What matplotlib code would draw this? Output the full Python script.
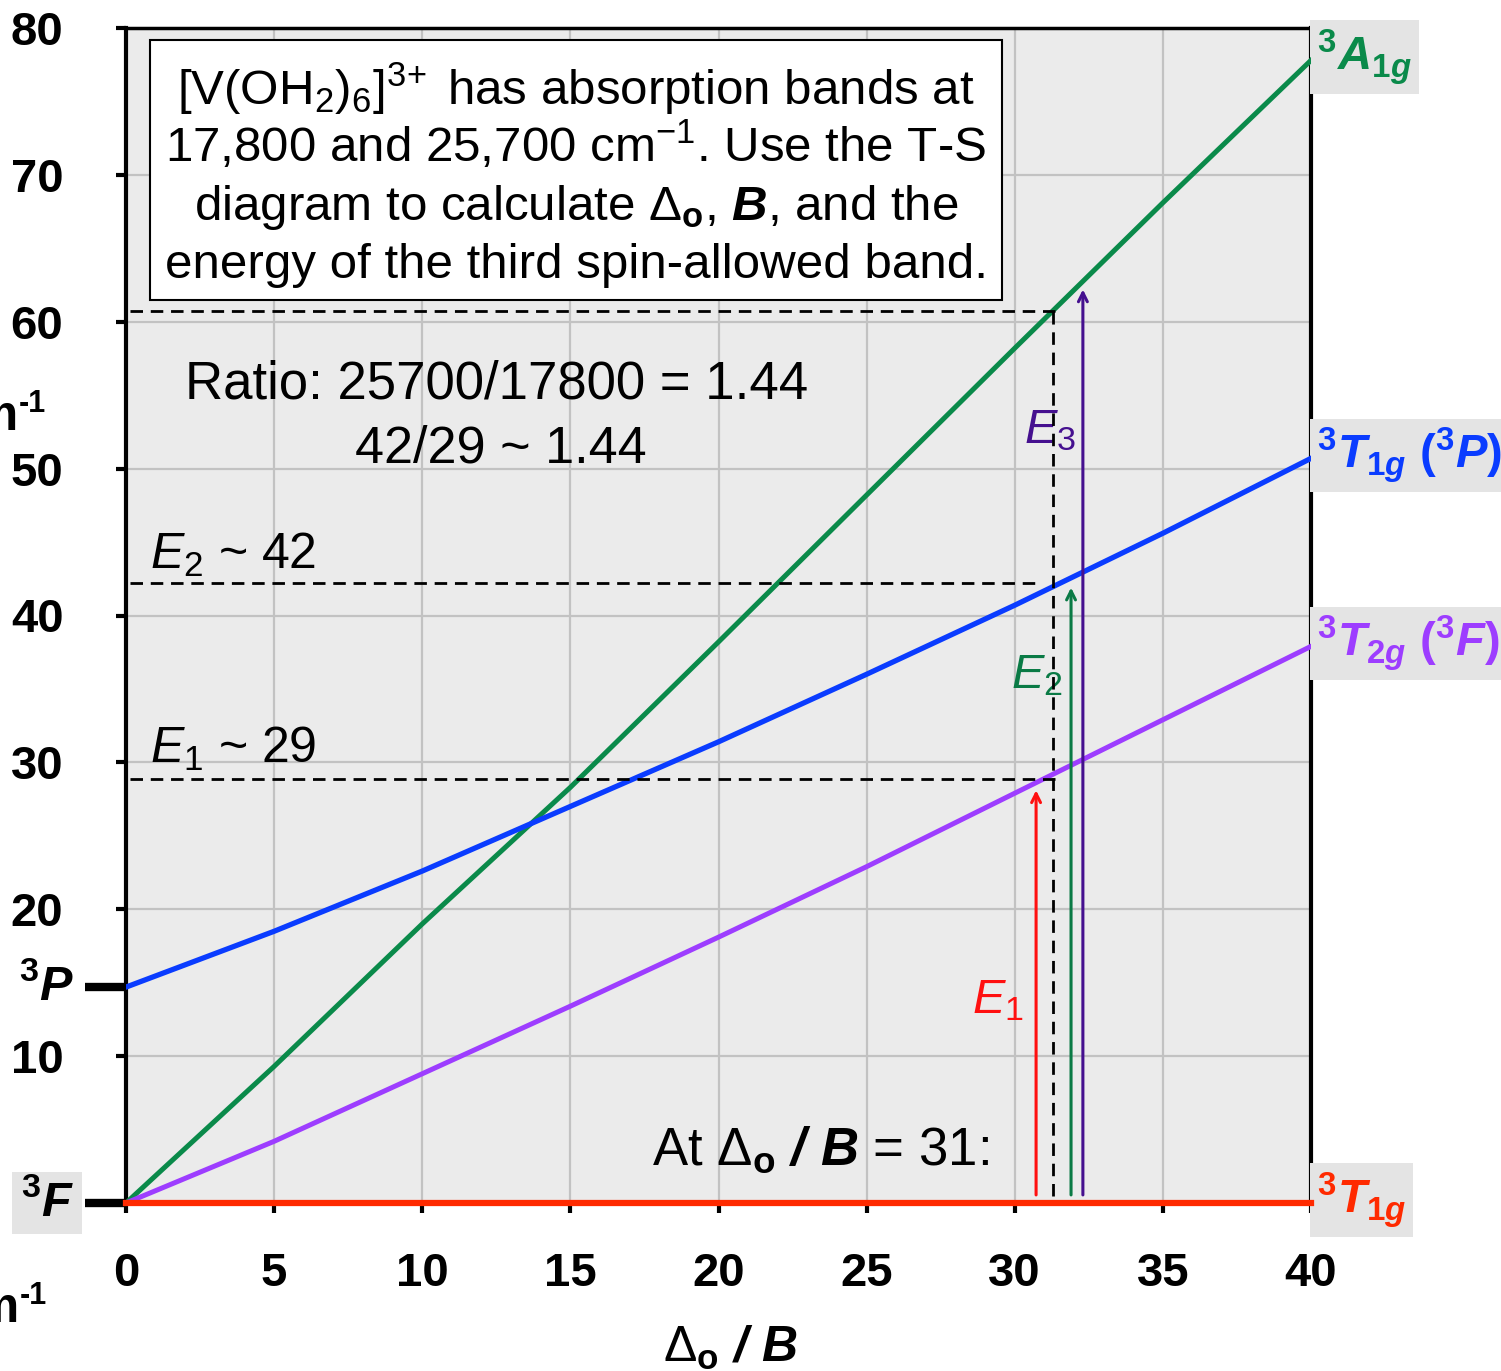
import matplotlib
matplotlib.use("Agg")
import matplotlib.pyplot as plt
from matplotlib.patches import Rectangle

plt.rcParams['font.family'] = ['Liberation Sans', 'DejaVu Sans']
plt.rcParams['mathtext.fontset'] = 'custom'
plt.rcParams['mathtext.rm'] = 'Liberation Sans'
plt.rcParams['mathtext.it'] = 'Liberation Sans:italic'
plt.rcParams['mathtext.bf'] = 'Liberation Sans:bold'
plt.rcParams['mathtext.bfit'] = 'Liberation Sans:bold:italic'
plt.rcParams['mathtext.sf'] = 'Liberation Sans'

# ---------------- data ----------------
dq_b = [0, 5, 10, 15, 20, 25, 30, 35, 40]
t1g_f = [0, 0, 0, 0, 0, 0, 0, 0, 0]
t2g_f = [0, 4.2, 8.8, 13.4, 18.1, 22.9, 27.9, 32.9, 37.9]
t1g_p = [14.7, 18.5, 22.6, 27.0, 31.4, 36.0, 40.7, 45.6, 50.7]
a1g = [0, 9.3, 19.0, 28.3, 38.2, 48.2, 58.2, 68.1, 77.8]

x_ticks = [0, 5, 10, 15, 20, 25, 30, 35, 40]
x_tick_labels = ['0', '5', '10', '15', '20', '25', '30', '35', '40']
y_ticks = [0, 10, 20, 30, 40, 50, 60, 70, 80]
y_tick_labels = ['', '10', '20', '30', '40', '50', '60', '70', '80']

term_3p = 14.7
ratio_x = 31.3           # Delta_o / B read-off
e1, e2, e3 = 29, 42, 61  # band energies (E/B)
arrow_x = [30.72, 31.9, 32.3]
arrow_tip = [28.1, 41.9, 62.2]
dash_ends = [31.35, 30.7, 31.35]   # for 61, 42, 29

# ---------------- styles ----------------
c_green = '#0a8a4a'
c_blue = '#0a3cff'
c_purple = '#9d3dff'
c_red = '#ff2a00'
c_e1 = '#ff1010'
c_e2 = '#0a7a45'
c_e3 = '#45108f'
gray_box = '#e4e4e4'

W, H = 1501, 1371
fig = plt.figure(figsize=(W / 100, H / 100), dpi=100)
ax = fig.add_axes([126 / W, 1 - 1203 / H, (1311 - 126) / W, (1203 - 28) / H])
ax.set_facecolor('#ebebeb')
ax.set_xlim(0, 40)
ax.set_ylim(0, 80)
ax.set_xticks(x_ticks)
ax.set_xticklabels(x_tick_labels)
ax.set_yticks(y_ticks)
ax.set_yticklabels(y_tick_labels)
ax.grid(True, color='#c2c2c2', lw=1.6)
ax.set_axisbelow(True)
for lab in ax.get_xticklabels() + ax.get_yticklabels():
    lab.set_fontsize(34)
    lab.set_fontweight('bold')
ax.tick_params(axis='x', direction='out', length=7, width=3, pad=28, color='black')
ax.tick_params(axis='y', direction='out', length=7, width=3, pad=38, color='black')
ax.spines['bottom'].set_visible(False)
ax.spines['left'].set_linewidth(3)
ax.spines['right'].set_linewidth(3)
ax.spines['top'].set_linewidth(2.5)

# curves
ax.plot(dq_b, a1g, color=c_green, lw=3.6, zorder=4)
ax.plot(dq_b, t1g_p, color=c_blue, lw=3.8, zorder=4)
ax.plot(dq_b, t2g_f, color=c_purple, lw=3.6, zorder=4)
ax.plot(dq_b, t1g_f, color=c_red, lw=4.5, zorder=6, clip_on=False)

# dashed read-off lines
dash_kw = dict(color='black', lw=2.0, ls=(0, (4.5, 2.8)), zorder=5)
ax.plot([0.15, dash_ends[0]], [60.7, 60.7], **dash_kw)
ax.plot([0.15, dash_ends[1]], [42.2, 42.2], **dash_kw)
ax.plot([0.15, dash_ends[2]], [28.9, 28.9], **dash_kw)
ax.plot([ratio_x, ratio_x], [0.5, 60.7], **dash_kw)

# arrows
for xa, tip, col in zip(arrow_x, arrow_tip, [c_e1, c_e2, c_e3]):
    ax.annotate('', xy=(xa, tip), xytext=(xa, 0.55),
                arrowprops=dict(arrowstyle='->', color=col, lw=2.2,
                                mutation_scale=16, shrinkA=0, shrinkB=0),
                zorder=6)

# E labels
ax.text(29.43, 13.8, r'$\mathit{E}_{1}$', color=c_e1, fontsize=35,
        ha='center', va='center')
ax.text(30.75, 35.9, r'$\mathit{E}_{2}$', color=c_e2, fontsize=35,
        ha='center', va='center')
ax.text(31.2, 52.6, r'$\mathit{E}_{3}$', color=c_e3, fontsize=35,
        ha='center', va='center')

# read-off texts
ax.text(0.81, 43.2, r'$\mathit{E}_{2}$ ~ 42', fontsize=36, ha='left', va='baseline')
ax.text(0.81, 29.95, r'$\mathit{E}_{1}$ ~ 29', fontsize=36, ha='left', va='baseline')
ax.text(1.99, 54.8, 'Ratio: 25700/17800 = 1.44', fontsize=38, ha='left', va='baseline')
ax.text(7.73, 50.4, '42/29 ~ 1.44', fontsize=37.5, ha='left', va='baseline')
ax.text(17.76, 2.6, r'At $\Delta_{\mathbf{o}}$ $\mathbfit{/}$ $\mathbfit{B}$ = 31:',
        fontsize=38, ha='left', va='baseline')

# question box
ax.add_patch(Rectangle((0.81, 61.5), 28.76, 17.7, facecolor='white',
                       edgecolor='black', lw=1.5, zorder=7))
box_lines = [r'[V(OH$_2$)$_6$]$^{3\!+}$ has absorption bands at',
             r'17,800 and 25,700 cm$^{-1}$. Use the T-S',
             r'diagram to calculate $\Delta_{\mathbf{o}}$, $\mathbfit{B}$, and the',
             'energy of the third spin-allowed band.']
for i, line in enumerate(box_lines):
    ax.text(15.19, 74.8 - 3.95 * i, line, fontsize=35.5, ha='center', va='baseline',
            zorder=8)

# left term symbols
ax.plot([-1.39, 0], [term_3p, term_3p], color='black', lw=6, clip_on=False,
        solid_capstyle='butt')
ax.plot([-1.39, 0], [0, 0], color='black', lw=6, clip_on=False,
        solid_capstyle='butt')
ax.text(-1.75, term_3p, r'$^{\mathbf{3}}\mathbfit{P}$', fontsize=35, ha='right',
        va='center', clip_on=False)
ax.text(-1.75, 0, r'$^{\mathbf{3}}\mathbfit{F}$', fontsize=35, ha='right',
        va='center', clip_on=False,
        bbox=dict(facecolor=gray_box, edgecolor='none', pad=6))

# right term labels
rk = dict(fontsize=34, ha='left', va='center', clip_on=False,
          bbox=dict(facecolor=gray_box, edgecolor='none', pad=5))
ax.text(40.2, a1g[-1] + 0.2, r'$^{\mathbf{3}}\mathbfit{A}_{\mathbf{1}\mathbfit{g}}$',
        color=c_green, **rk)
ax.text(40.2, t1g_p[-1] + 0.2,
        r'$^{\mathbf{3}}\mathbfit{T}_{\mathbf{1}\mathbfit{g}}\ \mathbf{(}^{\mathbf{3}}\mathbfit{P}\mathbf{)}$',
        color=c_blue, **rk)
ax.text(40.2, t2g_f[-1] + 0.2,
        r'$^{\mathbf{3}}\mathbfit{T}_{\mathbf{2}\mathbfit{g}}\ \mathbf{(}^{\mathbf{3}}\mathbfit{F}\mathbf{)}$',
        color=c_purple, **rk)
ax.text(40.2, t1g_f[-1] + 0.2, r'$^{\mathbf{3}}\mathbfit{T}_{\mathbf{1}\mathbfit{g}}$',
        color=c_red, **rk)

# clipped axis-unit labels at the left edge (partly outside, as in the reference)
for (xr, yb) in [(18, 430), (19, 1322)]:
    fig.text(xr / W, 1 - yb / H, 'cm', fontsize=36, fontweight='bold',
             ha='right', va='baseline')
    fig.text((xr + 1) / W, 1 - (yb - 18) / H, '-1', fontsize=22, fontweight='bold',
             ha='left', va='baseline')
fig.text(730 / W, 1 - 1362 / H, r'$\Delta_{\mathbf{o}}$ $\mathbfit{/}$ $\mathbfit{B}$',
         fontsize=36, ha='center', va='baseline')

fig.savefig('out.png', dpi=100)
